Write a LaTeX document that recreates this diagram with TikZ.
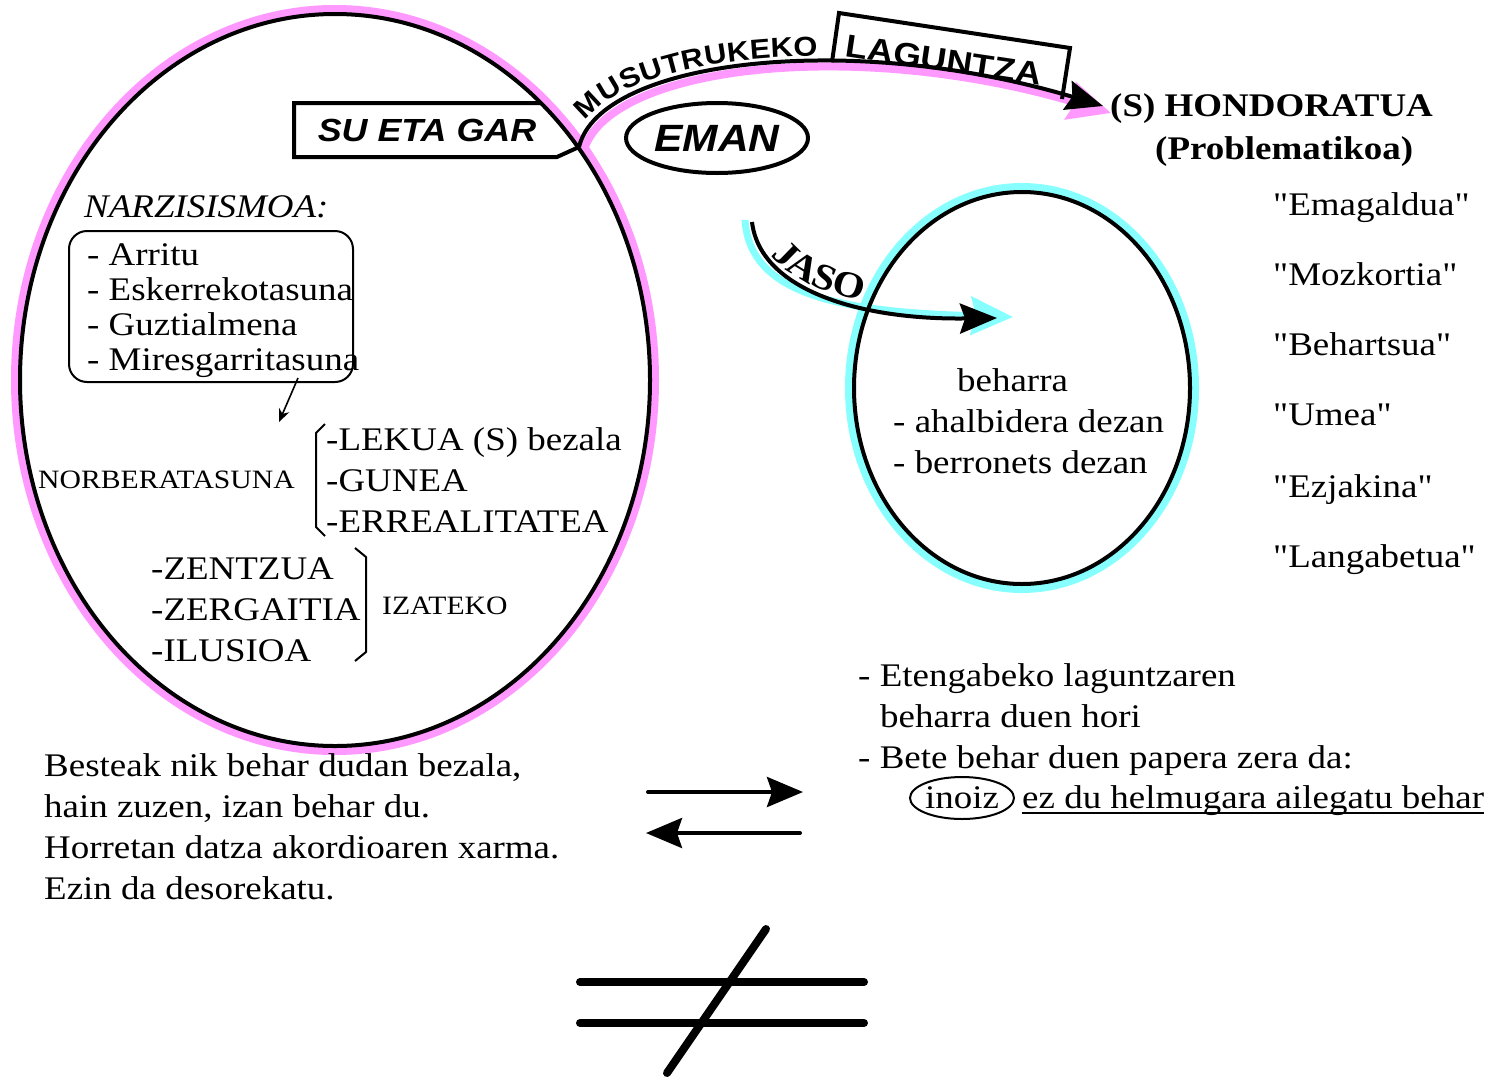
\documentclass[tikz,border=0pt]{standalone}
\usepackage{fontspec}
\setmainfont{Liberation Serif}[FakeStretch=1.12, Ligatures=TeXOff]
\setsansfont{Liberation Sans}[FakeStretch=1.12]
\usetikzlibrary{arrows.meta,decorations.text,shapes.geometric}
\definecolor{glowpink}{HTML}{FF99FF}
\definecolor{glowcyan}{HTML}{88FFFF}
\newcommand\fmain{\fontsize{33}{35}\selectfont}
\newcommand\fsml{\fontsize{26.5}{28}\selectfont}
\begin{document}
\begin{tikzpicture}[x=1pt,y=-1pt,
  txt/.style={inner sep=0pt, anchor=base west, font=\fmain},
  smalltxt/.style={inner sep=0pt, anchor=base west, font=\fsml},
  thick line/.style={line width=4pt},
  bracketline/.style={line width=2pt, line join=round},
  bigtip/.style={-{Stealth[length=37pt,width=30pt,inset=5pt]}},
  glowtip/.style={-{Stealth[length=42pt,width=38pt,inset=5pt]}},
  neqline/.style={line width=8pt, line cap=round}]
\useasboundingbox (0,0) rectangle (1495,1079);

% ---------- glows ----------
\draw[glowpink, line width=8pt] (335,380) ellipse [x radius=320pt, y radius=371pt];
\draw[glowcyan, line width=8pt] (1022,388) ellipse [x radius=173pt, y radius=201pt];
\draw[glowpink, line width=8pt, glowtip] (583,153) .. controls (604,66) and (854,36) .. (1111,113);
\draw[glowcyan, line width=7pt, glowtip] (745,220) .. controls (750,298) and (848,312) .. (1013,317);

% ---------- main shapes ----------
\draw[thick line] (335,380) ellipse [x radius=315pt, y radius=366pt];
\draw[thick line] (1022,388) ellipse [x radius=168pt, y radius=196pt];

\coordinate (join) at (579,147);
\coordinate (hend) at (1103,106);
\coordinate (jstart) at (752,222);
\coordinate (jend) at (997,318);

\draw[thick line, bigtip] (join) .. controls (600,60) and (850,30) .. (hend);
\draw[thick line, bigtip] (jstart) .. controls (760,290) and (860,320) .. (jend);

\path[decorate, decoration={text along path,
  text={|\sffamily\bfseries\fontsize{27.5}{27.5}\selectfont|MUSUTRUKEKO},
  text align={left indent=24pt}, raise=6pt}]
  (join) .. controls (600,60) and (850,30) .. (hend);
\path[decorate, decoration={text along path,
  text={|\bfseries\fontsize{37}{37}\selectfont|JASO},
  text align={left indent=40pt}, raise=5pt}]
  (jstart) .. controls (760,290) and (860,320) .. (jend);

% SU ETA GAR callout
\draw[thick line, line join=miter] (541,103) -- (294,103) -- (294,157) -- (557,157) -- (join);
\node[inner sep=0pt, font=\sffamily\bfseries\itshape\fontsize{32}{32}\selectfont] (sueta) at (427,130) {SU ETA GAR};

% LAGUNTZA box
\draw[thick line, line join=miter] (832,62) -- (839,13) -- (1070,48) -- (1062,99);
\node[inner sep=0pt, rotate=-8.5, font=\sffamily\bfseries\fontsize{32}{32}\selectfont] (lag) at (944,60) {LAGUNTZA};

% EMAN
\node[ellipse, draw, line width=4pt, minimum width=182pt, minimum height=70pt, inner sep=0pt,
  font=\sffamily\bfseries\itshape\fontsize{38}{38}\selectfont] (eman) at (717,138) {EMAN};

% HONDORATUA
\node[txt, font=\bfseries\fmain] (hond) at (1110,116) {(S) HONDORATUA};
\node[txt, font=\bfseries\fmain] (prob) at (1155,159) {(Problematikoa)};

% right column
\node[txt] (q1) at (1273,215) {"Emagaldua"};
\node[txt] (q2) at (1273,285) {"Mozkortia"};
\node[txt] (q3) at (1273,355) {"Behartsua"};
\node[txt] (q4) at (1273,425) {"Umea"};
\node[txt] (q5) at (1273,497) {"Ezjakina"};
\node[txt] (q6) at (1273,567) {"Langabetua"};

% inside cyan ellipse
\node[txt] (beh) at (957,391) {beharra};
\node[txt] (ahal) at (893,432) {- ahalbidera dezan};
\node[txt] (berr) at (893,473) {- berronets dezan};

% NARZISISMOA
\node[txt, font=\itshape\fmain] (narz) at (84,217) {NARZISISMOA:};
\draw[line width=2pt, rounded corners=18pt] (69,231) rectangle (353,382);
\node[txt] (l1) at (87,265) {- Arritu};
\node[txt] (l2) at (87,300) {- Eskerrekotasuna};
\node[txt] (l3) at (87,335) {- Guztialmena};
\node[txt] (l4) at (87,370) {- Miresgarritasuna};
\coordinate (sa1) at (298,378);
\coordinate (sa2) at (279,422);
\draw[line width=1.6pt, -{Stealth[length=13pt,width=11pt]}] (sa1) -- (sa2);

% NORBERATASUNA group
\node[smalltxt] (norb) at (38,488) {NORBERATASUNA};
\draw[bracketline] (325,424) -- (316,433) -- (316,527) -- (325,536);
\node[txt] (lek) at (326,450) {-LEKUA (S) bezala};
\node[txt] (gun) at (326,491) {-GUNEA};
\node[txt] (err) at (326,532) {-ERREALITATEA};

% IZATEKO group
\node[txt] (zen) at (151,579) {-ZENTZUA};
\node[txt] (zer) at (151,620) {-ZERGAITIA};
\node[txt] (ilu) at (151,661) {-ILUSIOA};
\draw[bracketline] (355,548) -- (366,557) -- (366,652) -- (355,661);
\node[smalltxt] (iza) at (382,614) {IZATEKO};

% bottom left text
\node[txt] (b1) at (44,776) {Besteak nik behar dudan bezala,};
\node[txt] (b2) at (44,817) {hain zuzen, izan behar du.};
\node[txt] (b3) at (44,858) {Horretan datza akordioaren xarma.};
\node[txt] (b4) at (44,899) {Ezin da desorekatu.};

% exchange arrows
\coordinate (ra1) at (648,792);
\coordinate (ra2) at (803,792);
\coordinate (la1) at (800,833);
\coordinate (la2) at (646,833);
\draw[line width=4pt, line cap=round, -{Stealth[length=36pt,width=30pt,inset=5pt]}] (ra1) -- (ra2);
\draw[line width=4pt, line cap=round, -{Stealth[length=36pt,width=30pt,inset=5pt]}] (la1) -- (la2);

% not-equal sign
\coordinate (n1a) at (580,982);
\coordinate (n1b) at (864,982);
\coordinate (n2a) at (580,1023);
\coordinate (n2b) at (864,1023);
\coordinate (s1) at (766,929);
\coordinate (s2) at (667,1073);
\draw[neqline] (n1a) -- (n1b);
\draw[neqline] (n2a) -- (n2b);
\draw[neqline] (s1) -- (s2);

% bottom right text
\node[txt] (r1) at (858,686) {- Etengabeko laguntzaren};
\node[txt] (r2) at (880,727) {beharra duen hori};
\node[txt] (r3) at (858,768) {- Bete behar duen papera zera da:};
\node[txt] (ino) at (925,808) {inoiz};
\draw[line width=2pt] (962,798) ellipse [x radius=52pt, y radius=21pt];
\node[txt] (ezdu) at (1022,808) {ez du helmugara ailegatu behar};
\draw[line width=2pt] ([yshift=-5pt]ezdu.base west) -- ([yshift=-5pt]ezdu.base east);
\end{tikzpicture}
\end{document}
